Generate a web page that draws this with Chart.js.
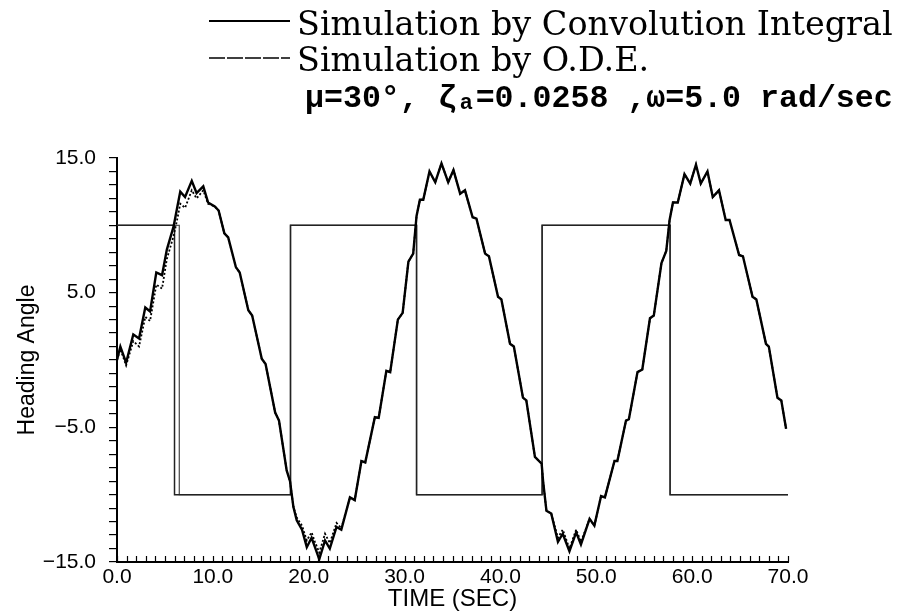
<!DOCTYPE html>
<html>
<head>
<meta charset="utf-8">
<script src="https://cdn.jsdelivr.net/npm/chart.js"></script>
<style>
  html, body { margin: 0; padding: 0; background: #fff; }
</style>
</head>
<body>
<canvas id="chart" width="900" height="614"></canvas>
<script>
// time samples (sec) for the heading traces
var time = [0, 0.35, 0.95, 1.7, 2.3, 2.95, 3.45, 4.1, 4.7, 5.2, 5.9, 6.3, 6.6, 7.1, 7.8, 8.3, 9.0, 9.5,
  10.2, 10.6, 11.2, 11.6, 12.4, 12.8, 13.7, 14.1, 15.1, 15.5, 16.5, 16.9, 17.7, 18.05, 18.4, 18.75,
  19.3, 19.8, 20.3, 20.65, 21.1, 21.7, 22.2, 22.9, 23.4, 24.3, 24.8, 25.5, 25.9, 26.9, 27.3, 28.1,
  28.5, 29.3, 29.8, 30.4, 30.9, 31.25, 31.6, 31.95, 32.6, 33.2, 33.85, 34.55, 35.1, 35.8, 36.3,
  37.1, 37.5, 38.4, 38.8, 39.75, 40.1, 41.0, 41.4, 42.35, 42.7, 43.6, 44.3, 44.45, 44.8, 45.3,
  46.0, 46.5, 47.2, 47.9, 48.4, 49.3, 49.8, 50.5, 50.9, 51.9, 52.2, 53.1, 53.4, 54.3, 54.8, 55.6,
  56.0, 56.8, 57.3, 57.65, 58.0, 58.5, 59.2, 59.8, 60.4, 60.9, 61.6, 62.15, 62.8, 63.5, 63.9, 64.9,
  65.3, 66.3, 66.7, 67.7, 68.0, 68.9, 69.3, 69.8];

// heading angle, convolution integral
var convHeading = [0.0, 1.0, -0.2, 1.9, 1.6, 3.9, 3.6, 6.5, 6.3, 8.2, 9.9, 11.4, 12.5, 12.1, 13.3, 12.4, 12.9, 11.7,
  11.4, 11.1, 9.4, 9.1, 6.9, 6.5, 3.7, 3.3, 0.1, -0.3, -3.9, -4.5, -8.2, -9.0, -10.9, -11.9,
  -12.6, -13.9, -13.2, -13.9, -14.8, -13.4, -14.0, -12.4, -12.6, -10.2, -10.4, -7.5, -7.6, -4.25, -4.3, -0.8,
  -0.9, 3.0, 3.5, 7.3, 7.9, 10.7, 11.9, 11.9, 14.0, 13.2, 14.6, 13.2, 14.1, 12.35, 12.6,
  10.6, 10.5, 7.9, 7.7, 4.7, 4.5, 1.2, 1.0, -2.8, -3.0, -7.2, -7.7, -9.0, -11.2, -11.4,
  -13.5, -12.9, -14.2, -12.8, -13.7, -11.8, -12.3, -10.1, -10.2, -7.5, -7.5, -4.5, -4.4, -0.9, -0.7, 3.1,
  3.3, 7.2, 8.1, 10.4, 11.7, 11.7, 13.8, 13.1, 14.5, 13.1, 14.0, 12.1, 12.6, 10.4, 10.4, 7.8,
  7.7, 4.7, 4.5, 1.2, 1.0, -2.8, -3.0, -5.1];

// heading angle, O.D.E.
var odeHeading = [0.0, 0.8, -0.4, 1.4, 1.0, 3.2, 2.9, 5.6, 5.3, 7.5, 9.2, 10.5, 11.6, 11.3, 12.6, 12.0, 12.6, 11.6,
  11.4, 11.1, 9.4, 9.1, 6.9, 6.5, 3.7, 3.3, 0.1, -0.3, -3.9, -4.5, -8.2, -9.0, -10.9, -11.7,
  -12.3, -13.4, -12.8, -13.5, -14.3, -12.9, -13.6, -12.1, -12.5, -10.2, -10.4, -7.5, -7.6, -4.25, -4.3, -0.8,
  -0.9, 3.0, 3.5, 7.3, 7.9, 10.7, 11.9, 11.9, 14.0, 13.2, 14.6, 13.2, 14.1, 12.35, 12.6,
  10.6, 10.5, 7.9, 7.7, 4.7, 4.5, 1.2, 1.0, -2.8, -3.0, -7.2, -7.7, -9.0, -11.2, -11.4,
  -13.2, -12.6, -14.0, -12.6, -13.5, -11.8, -12.3, -10.1, -10.2, -7.5, -7.5, -4.5, -4.4, -0.9, -0.7, 3.1,
  3.3, 7.2, 8.1, 10.4, 11.7, 11.7, 13.8, 13.1, 14.5, 13.1, 14.0, 12.1, 12.6, 10.4, 10.4, 7.8,
  7.7, 4.7, 4.5, 1.2, 1.0, -2.8, -3.0, -5.1];

// rudder (zig-zag) switching times and levels
var convRudderSwitch = [0, 6.0, 18.1, 31.25, 44.35, 57.7, 70];
var odeRudderSwitch = [0, 6.5, 18.1, 31.25, 44.35, 57.7, 70];
var rudderLevel = [10, -10, 10, -10, 10, -10];

// axis ticks
var xLabelValues = [0, 10, 20, 30, 40, 50, 60, 70];
var yLabelValues = [-15, -5, 5, 15];
var yLabelText = ['\u221215.0', '\u22125.0', '5.0', '15.0'];

var legendText = ['Simulation by Convolution Integral', 'Simulation by O.D.E.'];
var paramText = '\u03bc=30\u00b0, \u03b6\u2090=0.0258 ,\u03c9=5.0 rad/sec';

function toPoints(xs, ys) {
  return xs.map(function(x, i) { return { x: x, y: ys[i] }; });
}
function stepPoints(sw, lv) {
  var pts = [];
  for (var i = 0; i < lv.length; i++) {
    pts.push({ x: sw[i], y: lv[i] });
    pts.push({ x: sw[i + 1], y: lv[i] });
  }
  return pts;
}

// legend + parameters at the top
var topLegend = {
  id: 'topLegend',
  afterDraw: function(chart) {
    var ctx = chart.ctx;
    ctx.save();
    ctx.fillStyle = '#000';
    ctx.strokeStyle = '#000';
    ctx.textBaseline = 'alphabetic';
    ctx.textAlign = 'left';

    var size = 32;
    ctx.font = size + 'px "DejaVu Serif"';
    var w = ctx.measureText(legendText[0]).width;
    size = size * 596 / w;
    ctx.font = size + 'px "DejaVu Serif"';

    ctx.lineWidth = 2;
    ctx.beginPath(); ctx.moveTo(209, 21); ctx.lineTo(290, 21); ctx.stroke();
    ctx.fillText(legendText[0], 297, 35);

    ctx.lineWidth = 1.6;
    ctx.setLineDash([16, 2]);
    ctx.beginPath(); ctx.moveTo(209, 58); ctx.lineTo(290, 58); ctx.stroke();
    ctx.setLineDash([]);
    ctx.fillText(legendText[1], 297, 71);

    var ps = 30;
    ctx.font = 'bold ' + ps + 'px "Liberation Mono"';
    var pw = ctx.measureText(paramText).width;
    ps = ps * 588 / pw;
    ctx.font = 'bold ' + ps + 'px "Liberation Mono"';
    ctx.fillText(paramText, 305, 107);
    ctx.restore();
  }
};

// x-axis minor ticks point into the plot
var innerTicks = {
  id: 'innerTicks',
  afterDatasetsDraw: function(chart) {
    var ctx = chart.ctx, xs = chart.scales.x, bottom = chart.chartArea.bottom;
    ctx.save();
    ctx.strokeStyle = '#000';
    ctx.lineWidth = 1.2;
    for (var t = 0; t <= 70; t++) {
      var px = Math.round(xs.getPixelForValue(t)) + 0.5;
      ctx.beginPath();
      ctx.moveTo(px, bottom);
      ctx.lineTo(px, bottom - 6);
      ctx.stroke();
    }
    ctx.restore();
  }
};

var tickFont = { family: '"Liberation Sans", Arial, sans-serif', size: 21 };

var ctx = document.getElementById('chart').getContext('2d');
var chart = new Chart(ctx, {
  type: 'line',
  data: {
    datasets: [{
      label: legendText[0],
      data: toPoints(time, convHeading),
      borderColor: '#000',
      borderWidth: 2.4,
      pointRadius: 0,
      tension: 0
    }, {
      label: legendText[1],
      data: toPoints(time, odeHeading),
      borderColor: '#000',
      borderWidth: 1.8,
      borderDash: [2, 2],
      pointRadius: 0,
      tension: 0
    }, {
      label: 'rudder conv',
      data: stepPoints(convRudderSwitch, rudderLevel),
      borderColor: '#222',
      borderWidth: 1.5,
      pointRadius: 0,
      tension: 0
    }, {
      label: 'rudder ode',
      data: stepPoints(odeRudderSwitch, rudderLevel),
      borderColor: '#555',
      borderWidth: 1.3,
      pointRadius: 0,
      tension: 0
    }]
  },
  options: {
    responsive: false,
    animation: false,
    devicePixelRatio: 1,
    layout: { padding: { left: 0, top: 158, right: 112, bottom: 0 } },
    plugins: {
      legend: { display: false },
      tooltip: { enabled: false }
    },
    scales: {
      x: {
        type: 'linear',
        min: 0,
        max: 70,
        afterBuildTicks: function(scale) {
          scale.ticks = xLabelValues.map(function(v) { return { value: v }; });
        },
        afterFit: function(scale) { scale.height = 52; },
        ticks: {
          color: '#000',
          font: tickFont,
          padding: 3,
          maxRotation: 0,
          callback: function(v) { return v.toFixed(1); }
        },
        grid: { drawOnChartArea: false, drawTicks: false },
        border: { display: true, color: '#000', width: 2 },
        title: {
          display: true,
          text: 'TIME (SEC)',
          color: '#000',
          font: { family: '"Liberation Sans", Arial, sans-serif', size: 24 },
          padding: { top: 0, bottom: 0 }
        }
      },
      y: {
        type: 'linear',
        min: -15,
        max: 15,
        afterFit: function(scale) { scale.width = 117; },
        ticks: {
          stepSize: 1,
          autoSkip: false,
          color: '#000',
          font: tickFont,
          padding: 13,
          callback: function(v) {
            var i = yLabelValues.indexOf(v);
            return i >= 0 ? yLabelText[i] : '';
          }
        },
        grid: { drawOnChartArea: false, drawTicks: true, tickLength: 8, color: '#000', lineWidth: 1.2 },
        border: { display: true, color: '#000', width: 2 },
        title: {
          display: true,
          text: 'Heading Angle',
          color: '#000',
          font: { family: '"Liberation Sans", Arial, sans-serif', size: 23 },
          padding: { top: 14, bottom: 0 }
        }
      }
    }
  },
  plugins: [topLegend, innerTicks]
});
</script>
</body>
</html>
